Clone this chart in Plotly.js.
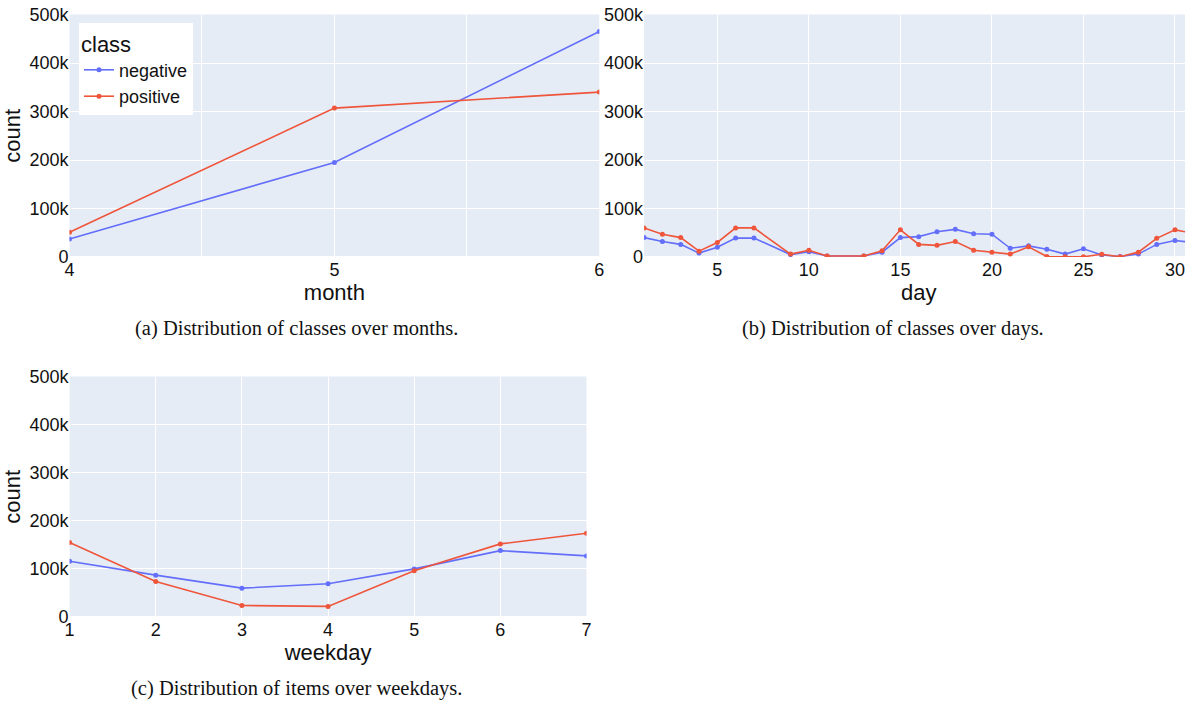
<!DOCTYPE html>
<html><head><meta charset="utf-8">
<script src="https://cdn.plot.ly/plotly-3.0.1.min.js"></script>
<style>
html,body{margin:0;padding:0;overflow:hidden;background:#fff;width:1185px;height:702px}
#chart{width:1200px;height:702px}
</style>
</head><body><div id="chart"></div>
<script>
// ---- data ----
const classNames = ['negative', 'positive'];

const months = [4, 5, 6];
const monthNegative = [37000, 195000, 465000];
const monthPositive = [51000, 307000, 340000];

const days = [1,2,3,4,5,6,7,9,10,11,13,14,15,16,17,18,19,20,21,22,23,24,25,26,27,28,29,30,31];
const dayNegative = [40000,32000,26000,8000,20000,39000,39000,5000,11000,2000,2000,10000,40000,42000,52000,57000,48000,47000,18000,23000,16000,6000,17000,4000,1000,6000,26000,34000,30000];
const dayPositive = [60000,47000,40000,12000,30000,60000,60000,6000,14000,2000,2000,13000,56000,26000,24000,32000,14000,10000,6000,21000,1000,500,500,5500,500,10000,38500,56000,49000];

const weekdays = [1, 2, 3, 4, 5, 6, 7];
const weekdayNegative = [116000, 87000, 60000, 69000, 100000, 138000, 127000];
const weekdayPositive = [155000, 74000, 24000, 22000, 96000, 152000, 174000];

const captions = [
  '(a) Distribution of classes over months.',
  '(b) Distribution of classes over days.',
  '(c) Distribution of items over weekdays.'
];

// ---- styling ----
const W = 1200, H = 702;
const BLUE = '#636efa', RED = '#EF553B';
const sans = 'Liberation Sans, Arial, sans-serif';
const tickFont = {family: sans, size: 18, color: '#111'};
const titleFont = {family: sans, size: 22, color: '#111'};
const px = v => v / W;
const py = v => 1 - v / H;

function trace(x, y, name, color, xa, ya, showlegend) {
  return {
    x: x, y: y, name: name, type: 'scatter', mode: 'lines+markers',
    line: {color: color, width: 1.6}, marker: {color: color, size: 5},
    xaxis: xa, yaxis: ya, legendgroup: name, showlegend: showlegend,
    hoverinfo: 'skip'
  };
}

const data = [
  trace(months, monthNegative, classNames[0], BLUE, 'x', 'y', true),
  trace(months, monthPositive, classNames[1], RED, 'x', 'y', true),
  trace(days, dayNegative, classNames[0], BLUE, 'x2', 'y2', false),
  trace(days, dayPositive, classNames[1], RED, 'x2', 'y2', false),
  trace(weekdays, weekdayNegative, classNames[0], BLUE, 'x3', 'y3', false),
  trace(weekdays, weekdayPositive, classNames[1], RED, 'x3', 'y3', false)
];

function yAxis(domain, anchor, title) {
  return {
    domain: domain, anchor: anchor, range: [0, 500000], tick0: 0, dtick: 100000,
    gridcolor: 'white', gridwidth: 1, zeroline: true, zerolinecolor: 'white', zerolinewidth: 2,
    showline: false, ticks: '', tickfont: tickFont, automargin: false,
    title: {text: title, font: titleFont, standoff: 4}, fixedrange: true
  };
}
function xAxis(domain, anchor, range, dtick, title, minor) {
  const ax = {
    domain: domain, anchor: anchor, range: range, dtick: dtick, tick0: 0,
    gridcolor: 'white', gridwidth: 1, zeroline: false, showline: false, ticks: '',
    tickfont: tickFont, automargin: false,
    title: {text: title, font: titleFont, standoff: 5}, fixedrange: true
  };
  if (minor) ax.minor = {dtick: minor, showgrid: true, gridcolor: 'white', gridwidth: 1};
  return ax;
}

const yTop = [py(257), py(14.5)];
const yBot = [py(617), py(376.5)];

const layout = {
  width: W, height: H,
  margin: {l: 0, r: 0, t: 0, b: 0, pad: 0},
  paper_bgcolor: 'white', plot_bgcolor: '#E5ECF6',
  font: {family: sans, color: '#111'},
  xaxis: xAxis([px(69.5), px(599.3)], 'y', [4, 6], 1, 'month', 0.5),
  yaxis: yAxis(yTop, 'x', 'count'),
  xaxis2: xAxis([px(644.1), px(1193.3)], 'y2', [1, 31], 5, 'day'),
  yaxis2: yAxis(yTop, 'x2', ''),
  xaxis3: xAxis([px(69.6), px(586.5)], 'y3', [1, 7], 1, 'weekday'),
  yaxis3: yAxis(yBot, 'x3', 'count'),
  legend: {
    x: px(79), y: py(23), xanchor: 'left', yanchor: 'top',
    bgcolor: 'white', borderwidth: 0, tracegroupgap: 0,
    title: {text: 'class', font: {family: sans, size: 22, color: '#111'}},
    font: {family: sans, size: 18, color: '#111'}
  },
  annotations: [
    {text: captions[0], x: px(296), y: py(328)},
    {text: captions[1], x: px(893), y: py(328)},
    {text: captions[2], x: px(296), y: py(688)}
  ].map(a => Object.assign(a, {
    xref: 'paper', yref: 'paper', xanchor: 'center', yanchor: 'middle', showarrow: false,
    font: {family: 'Liberation Serif, Times New Roman, serif', size: 20.5, color: '#111'}
  })),
  showlegend: true
};

Plotly.newPlot('chart', data, layout, {displayModeBar: false, staticPlot: true});
</script>
</body></html>
